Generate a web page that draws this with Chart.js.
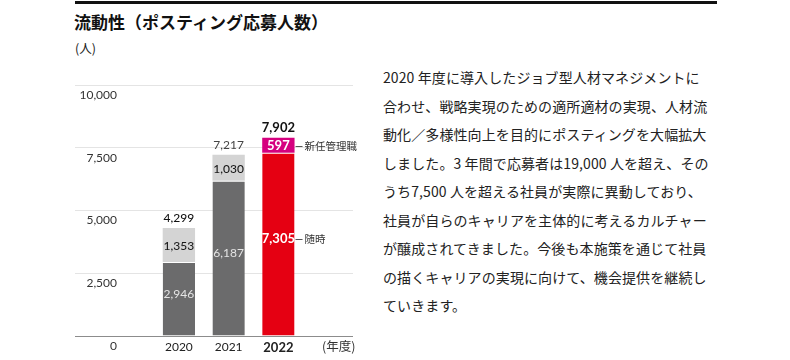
<!DOCTYPE html>
<html lang="ja">
<head>
  <meta charset="UTF-8" />
  <title>流動性（ポスティング応募人数）</title>
  <script src="https://cdn.jsdelivr.net/npm/chart.js"></script>
  <style>
    body {
      margin: 0;
      width: 790px;
      height: 360px;
      background: #fff;
      font-family: 'Noto Sans CJK JP', sans-serif;
      color: #222;
      position: relative;
      overflow: hidden;
    }

    .top-rule {
      position: absolute;
      left: 75px;
      top: 1px;
      width: 642px;
      height: 3px;
      background: #111;
    }

    h1 {
      position: absolute;
      left: 74px;
      top: 10px;
      margin: 0;
      font-size: 17px;
      font-weight: bold;
      line-height: 24px;
      color: #111;
    }

    .unit {
      position: absolute;
      left: 75px;
      top: 40px;
      font-size: 12.5px;
      line-height: 16px;
    }

    .year-unit {
      position: absolute;
      left: 322px;
      top: 338px;
      font-size: 12.5px;
      line-height: 16px;
      color: #333;
    }

    .chart-box {
      position: absolute;
      left: 0;
      top: 0;
      width: 360px;
      height: 360px;
    }

    .note {
      position: absolute;
      left: 383px;
      top: 63px;
      font-size: 14px;
      line-height: 28.5px;
      letter-spacing: 0.1px;
      white-space: nowrap;
      color: #222;
    }
  </style>
</head>
<body>
  <div class="top-rule"></div>
  <h1>流動性（ポスティング応募人数）</h1>
  <div class="unit">(人)</div>

  <div class="chart-box">
    <canvas id="postingChart"></canvas>
  </div>
  <div class="year-unit">(年度)</div>

  <div class="note">
    2020 年度に導入したジョブ型人材マネジメントに<br>
    合わせ、戦略実現のための適所適材の実現、人材流<br>
    動化／多様性向上を目的にポスティングを大幅拡大<br>
    しました。3 年間で応募者は19,000 人を超え、その<br>
    うち7,500 人を超える社員が実際に異動しており、<br>
    社員が自らのキャリアを主体的に考えるカルチャー<br>
    が醸成されてきました。今後も本施策を通じて社員<br>
    の描くキャリアの実現に向けて、機会提供を継続し<br>
    ていきます。
  </div>

  <script>
  // data
  const years = ['2020', '2021', '2022'];
  const seriesNames = ['随時', '新任管理職'];
  const regular = [2946, 6187, 7305];
  const newManager = [1353, 1030, 597];
  const totals = [4299, 7217, 7902];
  const yTicks = [0, 2500, 5000, 7500, 10000];

  const numFont = 'Lato, "Noto Sans CJK JP", sans-serif';
  const fmt = v => v.toLocaleString('en-US');

  // values, totals and series notes drawn on the bars
  const barLabels = {
    id: 'barLabels',
    afterDatasetsDraw(chart) {
      const ctx = chart.ctx;
      const low = chart.getDatasetMeta(0).data;
      const high = chart.getDatasetMeta(1).data;
      ctx.save();
      ctx.textAlign = 'center';
      ctx.textBaseline = 'middle';
      years.forEach((y, i) => {
        const last = i === years.length - 1;
        const a = low[i], b = high[i];

        ctx.font = (last ? 'bold 13px ' : '12px ') + numFont;
        ctx.fillStyle = last ? '#fff' : '#e4e4e4';
        ctx.fillText(fmt(regular[i]), a.x, (a.y + a.base) / 2 - 5);

        ctx.font = (last ? 'bold 13px ' : '500 12px ') + numFont;
        ctx.fillStyle = last ? '#fff' : '#1a1a1a';
        ctx.fillText(fmt(newManager[i]), b.x, (b.y + b.base) / 2 + 1);

        ctx.font = (last ? 'bold 13px ' : (i === 0 ? '500 12px ' : '12px ')) + numFont;
        ctx.fillStyle = i === 1 ? '#444' : '#111';
        ctx.fillText(fmt(totals[i]), b.x, b.y - 10);
      });

      // series names next to the latest bar
      const n = years.length - 1;
      const marks = [
        [low[n], (low[n].y + low[n].base) / 2 - 5, seriesNames[0]],
        [high[n], (high[n].y + high[n].base) / 2 + 1, seriesNames[1]]
      ];
      ctx.font = '10.5px "Noto Sans CJK JP", sans-serif';
      ctx.fillStyle = '#333';
      ctx.strokeStyle = '#555';
      ctx.lineWidth = 1;
      ctx.textAlign = 'left';
      marks.forEach(([el, yy, name]) => {
        const x0 = el.x + el.width / 2;
        ctx.beginPath();
        ctx.moveTo(x0 + 1, Math.round(yy) + 0.5);
        ctx.lineTo(x0 + 8, Math.round(yy) + 0.5);
        ctx.stroke();
        ctx.fillText(name, x0 + 10, yy);
      });
      ctx.restore();
    }
  };

  new Chart(document.getElementById('postingChart'), {
    type: 'bar',
    data: {
      labels: [...years, ''],
      datasets: [
        {
          label: seriesNames[0],
          data: regular,
          backgroundColor: ['#6b6b6c', '#6b6b6c', '#e50012'],
          borderColor: '#fff',
          borderWidth: { top: 1, bottom: 0, left: 0, right: 0 },
          borderSkipped: false
        },
        {
          label: seriesNames[1],
          data: newManager,
          backgroundColor: ['#d4d4d4', '#d4d4d4', '#d5007f'],
          borderWidth: 0
        }
      ]
    },
    options: {
      responsive: true,
      maintainAspectRatio: false,
      animation: false,
      layout: { padding: { left: 75, top: 85, right: 7, bottom: 0 } },
      datasets: {
        bar: { categoryPercentage: 1, barPercentage: 0.65 }
      },
      plugins: {
        legend: { display: false },
        tooltip: { enabled: false }
      },
      scales: {
        x: {
          stacked: true,
          grid: { display: false },
          border: { display: false },
          afterFit: s => { s.height = 24; },
          ticks: {
            padding: -4,
            color: '#222',
            font: c => ({ family: numFont, size: c.index === 2 ? 13 : 12, weight: c.index === 2 ? 'bold' : 'normal' })
          }
        },
        y: {
          stacked: true,
          min: 0,
          max: 10000,
          afterFit: s => { s.width = 79; },
          afterBuildTicks: s => { s.ticks = yTicks.map(v => ({ value: v })); },
          border: { display: false },
          grid: {
            color: c => c.tick && c.tick.value === 0 ? '#8c8c8c' : '#e4e4e4',
            lineWidth: 1,
            drawTicks: true,
            tickLength: 79
          },
          ticks: {
            padding: -42,
            labelOffset: 10,
            crossAlign: 'near',
            color: '#333',
            font: { family: numFont, size: 12 },
            callback: v => fmt(v)
          }
        }
      }
    },
    plugins: [barLabels]
  });
  </script>
</body>
</html>
